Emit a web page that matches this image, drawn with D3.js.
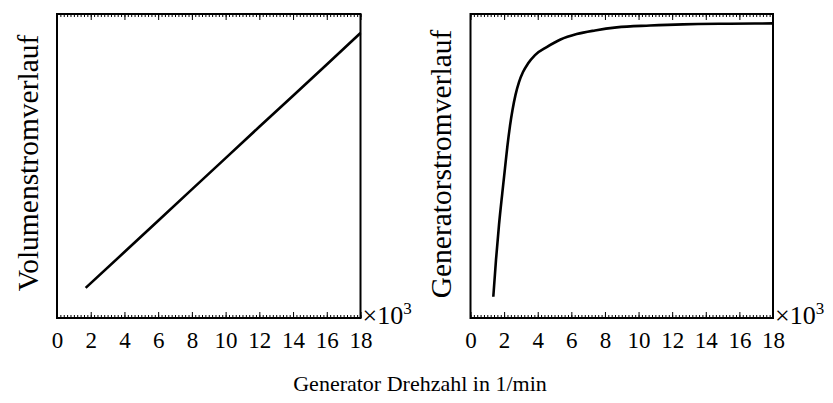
<!DOCTYPE html>
<html>
<head>
<meta charset="utf-8">
<script src="https://cdn.jsdelivr.net/npm/d3@7"></script>
<style>
  html, body { margin: 0; padding: 0; background: #fff; }
  svg { display: block; }
  text { font-family: "Liberation Serif", "DejaVu Serif", serif; fill: #000; }
</style>
</head>
<body>
<svg id="chart" width="833" height="403"></svg>
<script>
// Generator speed in thousands of 1/min
const volRpm   = [1.7, 4, 6, 8, 10, 12, 14, 16, 18];
// Volume flow profile (relative units)
const volFlow  = [0.099, 0.217, 0.320, 0.423, 0.526, 0.629, 0.731, 0.834, 0.9375];

const genRpm   = [1.357, 1.517, 1.696, 1.892, 2.053, 2.19, 2.35, 2.499, 2.678, 2.886, 3.124,
                  3.421, 3.838, 4.534, 5.355, 6.319, 7.408, 8.699, 10.68, 12.64, 15.44, 18.0];
// Generator current profile (relative units)
const genCurr  = [0.070, 0.191, 0.306, 0.411, 0.493, 0.5625, 0.632, 0.684, 0.734, 0.776, 0.809,
                  0.837, 0.865, 0.891, 0.916, 0.934, 0.946, 0.956, 0.962, 0.966, 0.968, 0.969];

const xTicks   = [0, 2, 4, 6, 8, 10, 12, 14, 16, 18];
const yTitles  = ["Volumenstromverlauf", "Generatorstromverlauf"];
const xTitle   = "Generator Drehzahl in 1/min";

const svg = d3.select("#chart");
const plotTop = 14, plotBottom = 318;
const panels = [
  { left: 57,    right: 360.5, xs: volRpm, ys: volFlow, title: yTitles[0], titleX: 38,  titleY: 163, curve: d3.curveLinear },
  { left: 470.5, right: 773,   xs: genRpm, ys: genCurr, title: yTitles[1], titleX: 451, titleY: 164, curve: d3.curveMonotoneX }
];

const y = d3.scaleLinear().domain([0, 1]).range([plotBottom, plotTop]);
const minorTicks = d3.range(0, 18.001, 0.2).map(v => +v.toFixed(1));

panels.forEach(p => {
  const x = d3.scaleLinear().domain([0, 18]).range([p.left, p.right]);
  const g = svg.append("g");

  const bottomMinor = d3.axisBottom(x).tickValues(minorTicks).tickSize(-3).tickFormat("");
  const bottomMajor = d3.axisBottom(x).tickValues(xTicks).tickSize(-6).tickPadding(14)
    .tickFormat(d3.format("d"));
  const topMinor = d3.axisTop(x).tickValues(minorTicks).tickSize(-3).tickFormat("");
  const topMajor = d3.axisTop(x).tickValues(xTicks).tickSize(-6).tickFormat("");

  [bottomMinor, bottomMajor].forEach(a => {
    const ax = g.append("g").attr("transform", `translate(0,${plotBottom})`).call(a);
    ax.select(".domain").remove();
    ax.selectAll(".tick line").attr("stroke", "#000").attr("stroke-width", 1);
  });
  [topMinor, topMajor].forEach(a => {
    const ax = g.append("g").attr("transform", `translate(0,${plotTop})`).call(a);
    ax.select(".domain").remove();
    ax.selectAll(".tick line").attr("stroke", "#000").attr("stroke-width", 1);
  });
  g.selectAll(".tick text").attr("font-family", "Liberation Serif, serif")
    .attr("font-size", 23).attr("fill", "#000");

  // frame
  g.append("rect")
    .attr("x", p.left).attr("y", plotTop)
    .attr("width", p.right - p.left).attr("height", plotBottom - plotTop)
    .attr("fill", "none").attr("stroke", "#000").attr("stroke-width", 2);

  // data line
  const line = d3.line().x((d, i) => x(p.xs[i])).y(d => y(d)).curve(p.curve);
  g.append("path").datum(p.ys)
    .attr("d", line)
    .attr("fill", "none").attr("stroke", "#000").attr("stroke-width", 2.6)
    .attr("stroke-linejoin", "round");

  // exponent marker
  const ex = g.append("text").attr("x", p.right + 2).attr("y", 324).attr("font-size", 26);
  ex.append("tspan").text("×10");
  ex.append("tspan").attr("dy", -10).attr("font-size", 17).text("3");

  // y title
  g.append("text")
    .attr("transform", `translate(${p.titleX},${p.titleY}) rotate(-90)`)
    .attr("text-anchor", "middle").attr("font-size", 29.5)
    .text(p.title);
});

svg.append("text").attr("x", 420).attr("y", 391).attr("text-anchor", "middle")
  .attr("font-size", 22).text(xTitle);
</script>
</body>
</html>
